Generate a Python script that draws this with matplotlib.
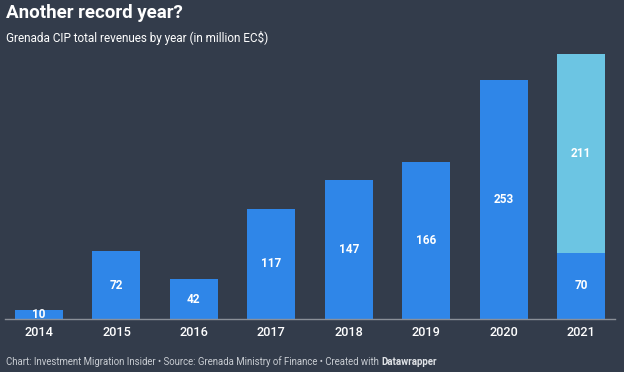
import matplotlib.pyplot as plt
import numpy as np

years = ["2014", "2015", "2016", "2017", "2018", "2019", "2020", "2021"]
revenues = [10, 72, 42, 117, 147, 166, 253, 70]
extra = [0, 0, 0, 0, 0, 0, 0, 211]

BG = "#333c4b"
BLUE = "#2f86e8"
LIGHT = "#6cc5e3"

plt.rcParams["font.family"] = ["Roboto", "DejaVu Sans"]

fig = plt.figure(figsize=(6.24, 3.72), dpi=100, facecolor=BG)
ax = fig.add_axes([5 / 624, 1 - 319 / 372, 610 / 624, (319 - 54) / 372])
ax.set_facecolor(BG)

x = np.arange(len(years))
width = 0.62
ax.bar(x, revenues, width=width, color=BLUE, zorder=2)
ax.bar(x, extra, width=width, bottom=revenues, color=LIGHT, zorder=2)

for xi, v in zip(x, revenues):
    ax.text(xi, v / 2, str(v), ha="center", va="center", color="white",
            fontsize=8.5, fontweight="bold", zorder=3)
for xi, b, v in zip(x, revenues, extra):
    if v:
        ax.text(xi, b + v / 2, str(v), ha="center", va="center", color="white",
                fontsize=8.5, fontweight="bold", zorder=3)

ax.set_xlim(-0.44, 7.44)
ax.set_ylim(0, 281)
ax.set_yticks([])
ax.set_xticks(x)
ax.set_xticklabels(years, color="white", fontsize=9.2, fontweight="medium")
ax.tick_params(axis="x", length=0, pad=5)
for side in ("top", "right", "left"):
    ax.spines[side].set_visible(False)
ax.spines["bottom"].set_color("#8a8f98")
ax.spines["bottom"].set_linewidth(1.0)

fig.text(6 / 624, 1 - 13 / 372, "Another record year?", color="white",
         fontsize=13.5, fontweight="bold", va="center", ha="left")
fig.text(6 / 624, 1 - 38 / 372, "Grenada CIP total revenues by year (in million EC$)",
         color="white", fontsize=8.5, va="center", ha="left")
base = fig.text(6 / 624, 1 - 362 / 372,
                "Chart: Investment Migration Insider \u2022 Source: Grenada Ministry of Finance \u2022 Created with ",
                color="#c8ccd2", fontsize=6.9, va="center", ha="left")
fig.canvas.draw()
bb = base.get_window_extent(fig.canvas.get_renderer())
fig.text(bb.x1 / fig.bbox.width, 1 - 362 / 372, "Datawrapper", color="#e0e3e7",
         fontsize=6.9, fontweight="bold", va="center", ha="left")

fig.savefig("out.png", dpi=100, facecolor=BG)
